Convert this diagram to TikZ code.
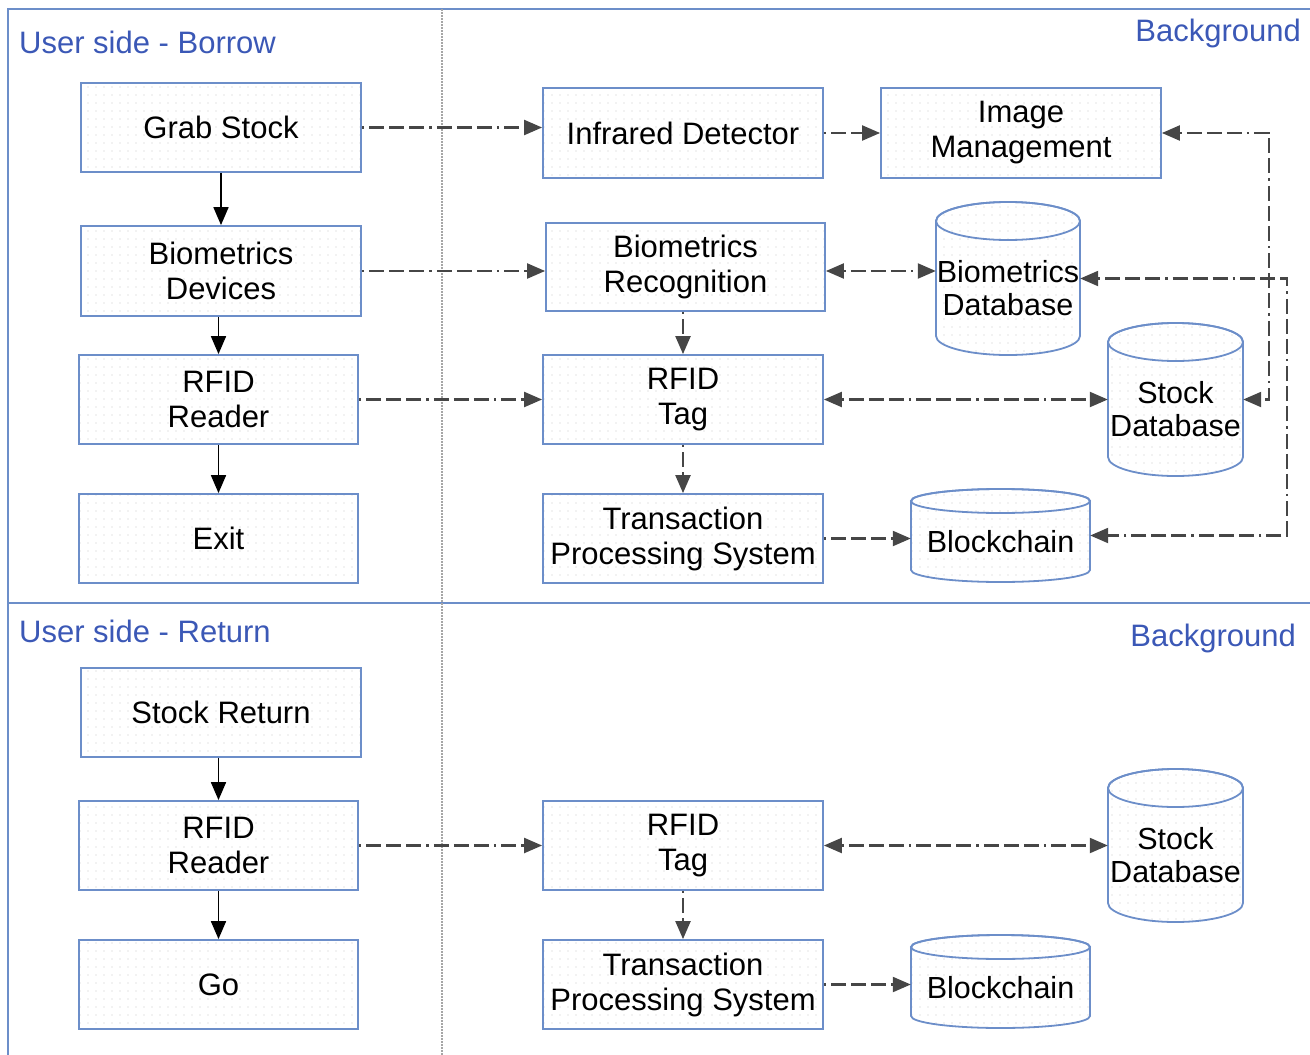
\documentclass[tikz,border=0pt]{standalone}
\usepackage{fontspec}
\setmainfont{Liberation Sans}
\usetikzlibrary{arrows.meta,patterns.meta,calc}

\definecolor{boxblue}{RGB}{108,142,201}
\definecolor{labelblue}{RGB}{59,88,182}
\definecolor{flowgray}{RGB}{70,70,70}

\tikzset{
  dotfill/.style={pattern={Dots[distance=8pt,radius=0.6pt]}, pattern color=black!22},
  box/.style={draw=boxblue, line width=1.8pt, dotfill, minimum width=280pt,
    minimum height=89pt, inner sep=0pt, align=center, text=black,
    font=\fontsize{31}{35}\selectfont},
  dbshell/.style={draw=boxblue, line width=1.8pt, dotfill},
  dbtext/.style={inner sep=0pt, align=center, text=black,
    font=\fontsize{30.5}{33}\selectfont},
  lanelabel/.style={inner sep=0pt, text=labelblue, font=\fontsize{31}{36}\selectfont},
  frame/.style={draw=boxblue, line width=1.8pt},
  lanesep/.style={draw=black!35, line width=1.8pt, dash pattern=on 1.5pt off 1.5pt},
  solidflow/.style={draw=black, line width=1.8pt, -{Triangle[length=18pt,width=15pt]}},
  flow/.style={draw=flowgray, line width=2.2pt,
    dash pattern=on 2.5pt off 5pt on 15pt off 5pt on 15pt off 5pt on 15pt off 5pt,
    >={Triangle[length=18pt,width=15pt]}, ->},
}

% database cylinder: name, centre x, centre y, width, height, cap radius, text
\newcommand\dbcyl[7]{%
  \path[dbshell] (#2-#4/2,#3+#5/2-#6) -- (#2-#4/2,#3-#5/2+#6)
    arc[start angle=180,end angle=360,x radius=#4/2,y radius=#6]
    -- (#2+#4/2,#3+#5/2-#6)
    arc[start angle=0,end angle=180,x radius=#4/2,y radius=#6] -- cycle;
  \draw[boxblue, line width=1.8pt] (#2,#3+#5/2-#6) ellipse[x radius=#4/2, y radius=#6];
  \node[inner sep=0pt, minimum width=#4pt, minimum height=#5pt] (#1) at (#2,#3) {};
  \node[dbtext] (#1-text) at (#2,#3-#6/2) {#7};
}

\begin{document}
\begin{tikzpicture}[x=1pt,y=1pt]
\useasboundingbox (0,0) rectangle (1310,-1055);

% lanes
\draw[frame] (1310,-9) -- (8,-9) -- (8,-1055);
\draw[frame] (8,-603) -- (1310,-603);
\draw[lanesep] (442,-9) -- (442,-1055);

\node[lanelabel, anchor=west] (lblborrow) at (19,-42) {User side - Borrow};
\node[lanelabel, anchor=east] (lblbg1) at (1301,-33) {Background};
\node[lanelabel, anchor=west] (lblreturn) at (19,-631) {User side - Return};
\node[lanelabel, anchor=east] (lblbg2) at (1296,-638) {Background};

% ---- borrow: user side
\node[box] (grab) at (221,-127.5) {Grab Stock};
\node[box, minimum height=90pt] (biodev) at (221,-271) {Biometrics\\Devices};
\node[box, minimum width=279pt] (reader1) at (218.5,-399.5) {RFID\\Reader};
\node[box, minimum width=279pt] (exit) at (218.5,-538.5) {Exit};

% ---- borrow: background
\node[box, minimum height=90pt] (infra) at (683,-133) {Infrared Detector};
\node[box, minimum height=90pt] (image) at (1021,-133) {Image\\Management};
\node[box, minimum width=279pt, minimum height=88pt] (biorec) at (685.5,-267) {Biometrics\\Recognition};
\node[box] (tag1) at (683,-399.5) {RFID\\Tag};
\node[box] (tps1) at (683,-538.5) {Transaction\\Processing System};
\dbcyl{biodb}{1008}{-278.5}{144}{153}{19}{Biometrics\\Database}
\dbcyl{stock1}{1175.5}{-399.5}{135}{153}{19}{Stock\\Database}
\dbcyl{chain1}{1000.5}{-535.5}{179}{93}{12}{Blockchain}

% ---- return: user side
\node[box] (sreturn) at (221,-712.5) {Stock Return};
\node[box, minimum width=279pt] (reader2) at (218.5,-845.5) {RFID\\Reader};
\node[box, minimum width=279pt] (go) at (218.5,-984.5) {Go};

% ---- return: background
\node[box] (tag2) at (683,-845.5) {RFID\\Tag};
\node[box] (tps2) at (683,-984.5) {Transaction\\Processing System};
\dbcyl{stock2}{1175.5}{-845.5}{135}{153}{19}{Stock\\Database}
\dbcyl{chain2}{1000.5}{-981.5}{179}{93}{12}{Blockchain}

% ---- borrow connectors
\draw[solidflow] (grab.south) -- (grab.south |- biodev.north);
\draw[solidflow] (biodev.south -| reader1.north) -- (reader1.north);
\draw[solidflow] (reader1.south) -- (exit.north);

\draw[flow] (grab.east) -- (grab.east -| infra.west);
\draw[flow] (infra.east) -- (infra.east -| image.west);
\draw[flow] (biodev.east) -- (biodev.east -| biorec.west);
\draw[flow, <->] (biorec.east |- biodev.east) -- (biodev.east -| biodb.west);
\draw[flow] (tag1.north |- biorec.south) -- (tag1.north);
\draw[flow] (reader1.east) -- (reader1.east -| tag1.west);
\draw[flow, <->] (tag1.east) -- (tag1.east -| stock1.west);
\draw[flow] (tag1.south) -- (tps1.north);
\draw[flow] (tps1.east) -- (tps1.east -| chain1.west);
\draw[flow, <->] (image.east) -- ++(107,0) |- (stock1.east);
\draw[flow, <->] (biodb.east) -- ++(207,0) |- (chain1.east);

% ---- return connectors
\draw[solidflow] (sreturn.south -| reader2.north) -- (reader2.north);
\draw[solidflow] (reader2.south) -- (go.north);
\draw[flow] (reader2.east) -- (reader2.east -| tag2.west);
\draw[flow, <->] (tag2.east) -- (tag2.east -| stock2.west);
\draw[flow] (tag2.south) -- (tps2.north);
\draw[flow] (tps2.east) -- (tps2.east -| chain2.west);
\end{tikzpicture}
\end{document}
